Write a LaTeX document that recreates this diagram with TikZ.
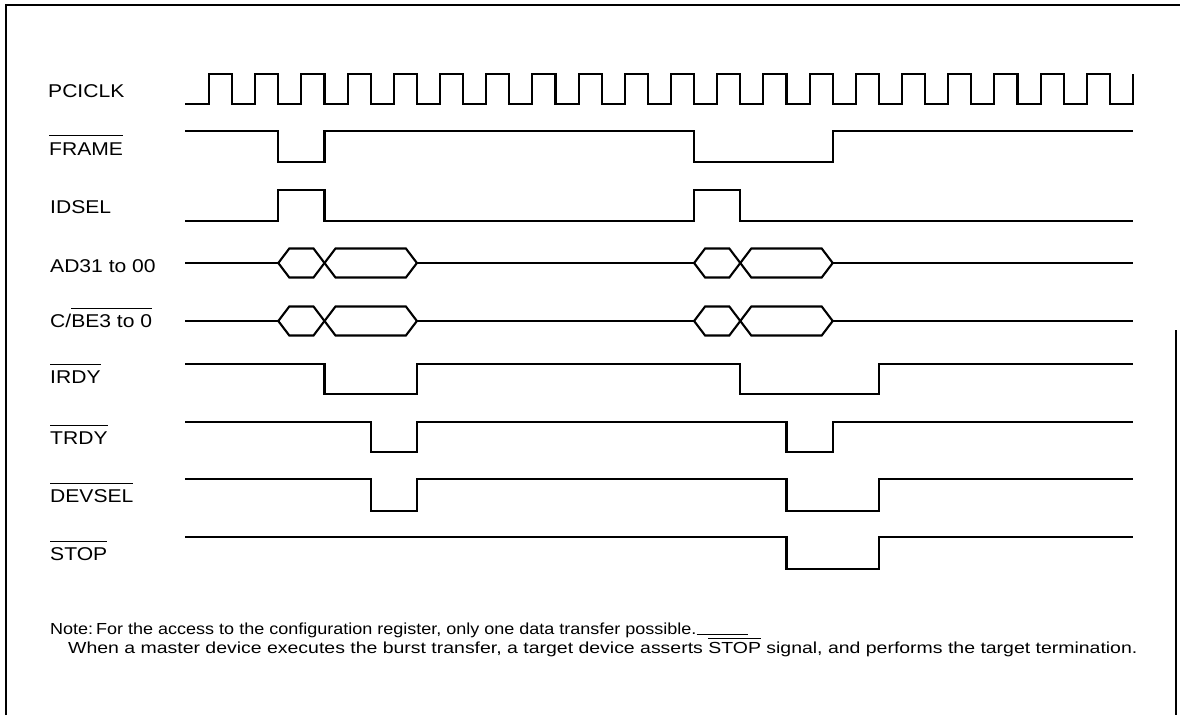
\documentclass[tikz,border=0pt]{standalone}
\usepackage{fontspec}
\setmainfont{Liberation Sans}
\newcommand\ovl[2][5pt]{\vbox{\hrule height 1.3pt\kern #1\hbox{#2}}}
\newcommand\mybushex[3]{%
  \draw[sig] (#1,#3) -- ({#1+11},{#3-14.5}) -- ({#2-11},{#3-14.5}) -- (#2,#3)
    -- ({#2-11},{#3+14.5}) -- ({#1+11},{#3+14.5}) -- cycle;}
\begin{document}
\begin{tikzpicture}[x=1pt,y=-1pt,
  sig/.style={line width=2.1pt, line join=miter},
  border/.style={line width=1.5pt},
  lbl/.style={anchor=base west, inner sep=0pt, font=\fontsize{18.5}{21}\selectfont},
  note/.style={anchor=base west, inner sep=0pt, font=\fontsize{16}{19}\selectfont}]
\useasboundingbox (0,0) rectangle (1180,715);
% border
\draw[border] (6,715) -- (6,5) -- (1180,5);
\draw[border] (1176,330) -- (1176,715);
% labels
\node[lbl] (lclk) at (48,97) {\scalebox{1.14}[1]{PCICLK}};
\node[lbl] (lframe) at (49,155) {\scalebox{1.14}[1]{\ovl[6pt]{FRAME}}};
\node[lbl] (lidsel) at (50,213) {\scalebox{1.14}[1]{IDSEL}};
\node[lbl] (lad) at (50,272) {\scalebox{1.14}[1]{AD31 to 00}};
\node[lbl] (lcbe) at (50,327) {\scalebox{1.14}[1]{C/\ovl{BE3 to 0}}};
\node[lbl] (lirdy) at (50,383) {\scalebox{1.14}[1]{\ovl{IRDY}}};
\node[lbl] (ltrdy) at (50,444) {\scalebox{1.14}[1]{\ovl{TRDY}}};
\node[lbl] (ldevsel) at (50,502) {\scalebox{1.14}[1]{\ovl{DEVSEL}}};
\node[lbl] (lstop) at (50,560) {\scalebox{1.14}[1]{\ovl{STOP}}};
% PCICLK
\draw[sig] (185,104) \foreach \k in {0,...,19}{ -- ({209+46.2*\k},104) -- ({209+46.2*\k},74) -- ({232.1+46.2*\k},74) -- ({232.1+46.2*\k},104)} -- (1133,104) -- (1133,74);
% FRAME
\draw[sig] (185,131) -- (278.3,131) -- (278.3,162) -- (324.5,162) -- (324.5,131) -- (694.1,131) -- (694.1,162) -- (832.7,162) -- (832.7,131) -- (1133,131);
% IDSEL
\draw[sig] (185,221) -- (278.3,221) -- (278.3,190) -- (324.5,190) -- (324.5,221) -- (694.1,221) -- (694.1,190) -- (740.3,190) -- (740.3,221) -- (1133,221);
% AD31 to 00
\draw[sig] (185,263) -- (278.3,263);
\mybushex{278.3}{324.5}{263}
\mybushex{324.5}{416.9}{263}
\draw[sig] (416.9,263) -- (694.1,263);
\mybushex{694.1}{740.3}{263}
\mybushex{740.3}{832.7}{263}
\draw[sig] (832.7,263) -- (1133,263);
% C/BE
\draw[sig] (185,321) -- (278.3,321);
\mybushex{278.3}{324.5}{321}
\mybushex{324.5}{416.9}{321}
\draw[sig] (416.9,321) -- (694.1,321);
\mybushex{694.1}{740.3}{321}
\mybushex{740.3}{832.7}{321}
\draw[sig] (832.7,321) -- (1133,321);
% IRDY
\draw[sig] (185,364) -- (324.5,364) -- (324.5,394) -- (416.9,394) -- (416.9,364) -- (740.3,364) -- (740.3,394) -- (878.9,394) -- (878.9,364) -- (1133,364);
% TRDY
\draw[sig] (185,422) -- (370.7,422) -- (370.7,452) -- (416.9,452) -- (416.9,422) -- (786.5,422) -- (786.5,452) -- (832.7,452) -- (832.7,422) -- (1133,422);
% DEVSEL
\draw[sig] (185,479) -- (370.7,479) -- (370.7,511) -- (416.9,511) -- (416.9,479) -- (786.5,479) -- (786.5,511) -- (878.9,511) -- (878.9,479) -- (1133,479);
% STOP
\draw[sig] (185,537) -- (786.5,537) -- (786.5,569) -- (878.9,569) -- (878.9,537) -- (1133,537);
% note
\node[note] (n1) at (50,634) {\resizebox{698pt}{\height}{Note:\,For the access to the configuration register, only one data transfer possible.\rule[-1.2pt]{46pt}{1.1pt}}};
\node[note] (n2) at (68,653) {\resizebox{1069pt}{\height}{When a master device executes the burst transfer, a target device asserts \ovl[2.5pt]{STOP} signal, and performs the target termination.}};
\end{tikzpicture}
\end{document}
